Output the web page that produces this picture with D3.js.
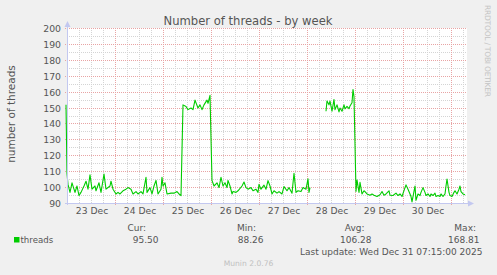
<!DOCTYPE html>
<html><head><meta charset="utf-8">
<script src="https://cdn.jsdelivr.net/npm/d3@7"></script>
<style>
html,body{margin:0;padding:0;background:#f0f0f0;}
svg{display:block;}
text{font-family:"DejaVu Sans",sans-serif;}
</style></head>
<body>
<script>
// ---- data ----
const startTime = "2025-12-22T23:15:00Z";
const endTime = "2025-12-31T07:15:00Z";
const hoursFromStart = [0,0.5,1,2,3,4.5,5.5,6.5,7.5,9,10,11,12,13,14.5,15,16.5,17.5,19,20,22,22.5,23.5,25,26,27,28.5,30,31,32.5,33.5,35,36,37.5,38.5,40,40.5,42,43,44,45,46,47.5,48,48.5,49.5,50.5,52.5,54,55.5,56.5,57.5,58.5,60,61,62.5,63.5,64.5,66,67,68,69,70.5,71,72,73,74,75.5,76.5,77.5,78.5,79.5,80.5,81,82,83,83.5,85,86,88,89,90,91,92.5,93.5,95,96,96.5,97.5,99,100,101,102,103,104,105.5,106.5,108,109,110.5,111.5,113,114,115,116,117.5,118.5,120,121,121.5,122,123,130,130.5,131.5,132,133,134,134.5,135.5,136.5,137,138,139,139.5,140.5,141.5,142,143,143.5,144,145,145.5,146.5,147,148,149,149.5,150.5,152,153,154,155.5,157,158,159,160,161.5,162,163.5,165,166,167,168,169.5,170,171,172,172.5,173,174.5,175,176,177,177.5,178.5,179.5,180,181,182,182.5,183.5,184.5,185,186,187,187.5,188.5,189.5,190,190.5,191.5,192,193,194,194.5,195.5,196.5,197,197.5,198.5,199.5];
const threads = [152,109,102,97,103,97,101,95,97,101,104,99,108,99,101,98,103,97,108.5,99,101,104,99,96,97,96,98,99,100,99,96,97.5,96,97.5,96,106.5,97,100,96,101,104.5,96,99,106.5,101,103,96,96.5,96.5,97.5,96,95,152,151,149,150,149,155,150,152,149,152,155,153,158,104.5,101,103,100,106.5,101,103,100,104.5,101,96,97.5,97,98,101,103.5,100,99,100,98,99,97,102,99,101.5,99,104.4,101,96,98,96.5,97.5,96,100.6,98,100,96.5,109,97,98,97.5,100,99,105.5,97,100,null,148,154.4,152,154.4,148,155.4,149,152,147.6,150,148,152,149.5,151,149.6,151.3,153.3,161.7,157,97.5,104.8,97,103.3,96,98,97.5,96,95.2,96,95.2,94.4,95.5,97.5,95.2,96,98,95.2,95,96.5,95,96,94.4,100,101.7,99,96,94.4,91,101,92,96,95,97,100,97,95,96,94.4,96,95,96.5,94.4,95,94.4,96,94.4,96,101,105.4,97,95,94.4,97,98,96,99,101,97.5,96,95.5];
const yTicks = [90,100,110,120,130,140,150,160,170,180,190,200];
const yMinorTicks = [95,105,115,125,135,145,155,165,175,185,195];
const legendHeaders = ["Cur:","Min:","Avg:","Max:"];
const legendValues = ["95.50","88.26","106.28","168.81"];
const seriesName = "threads";
const title = "Number of threads - by week";
const yLabel = "number of threads";
const lastUpdate = "Last update: Wed Dec 31 07:15:00 2025";
const version = "Munin 2.0.76";
const sideText = "RRDTOOL / TOBI OETIKER";

// ---- layout ----
const W = 497, H = 275;
const t0 = new Date(startTime), t1 = new Date(endTime);
const x = d3.scaleUtc().domain([t0, t1]).range([66, 466]);
const y = d3.scaleLinear().domain([90, 200]).range([203.5, 28.5]);
const plotL = 67, plotR = 467, plotT = 28, plotB = 203;

const svg = d3.select("body").append("svg").attr("width", W).attr("height", H);
svg.append("rect").attr("width", W).attr("height", H).attr("fill", "#f0f0f0");
svg.append("rect").attr("x", plotL).attr("y", plotT).attr("width", plotR - plotL).attr("height", plotB - plotT).attr("fill", "#ffffff");

const minorCol = "#d4d4d4", majorCol = "#e8a4a4";
const g = svg.append("g");
// minor vertical (6h)
const hours6 = d3.utcHour.every(6).range(t0, t1).filter(d => d.getUTCHours() !== 0);
g.selectAll(".vmin").data(hours6).join("line")
  .attr("x1", d => Math.floor(x(d)) + 0.5).attr("x2", d => Math.floor(x(d)) + 0.5)
  .attr("y1", plotT).attr("y2", plotB)
  .attr("stroke", minorCol).attr("stroke-dasharray", "1,1").attr("shape-rendering", "crispEdges");
// minor horizontal
g.selectAll(".hmin").data(yMinorTicks).join("line")
  .attr("x1", plotL).attr("x2", plotR)
  .attr("y1", d => Math.floor(y(d)) + 0.5).attr("y2", d => Math.floor(y(d)) + 0.5)
  .attr("stroke", minorCol).attr("stroke-dasharray", "1,1").attr("shape-rendering", "crispEdges");
// major vertical (midnight)
const days = d3.utcDay.range(t0, t1);
g.selectAll(".vmaj").data(days).join("line")
  .attr("x1", d => Math.floor(x(d)) + 0.5).attr("x2", d => Math.floor(x(d)) + 0.5)
  .attr("y1", plotT).attr("y2", plotB + 2)
  .attr("stroke", majorCol).attr("stroke-dasharray", "1,1").attr("shape-rendering", "crispEdges");
// major horizontal
g.selectAll(".hmaj").data(yTicks).join("line")
  .attr("x1", plotL - 2).attr("x2", plotR)
  .attr("y1", d => Math.floor(y(d)) + 0.5).attr("y2", d => Math.floor(y(d)) + 0.5)
  .attr("stroke", majorCol).attr("stroke-dasharray", "1,1").attr("shape-rendering", "crispEdges");

// data line
const pts = hoursFromStart.map((h, i) => ({t: d3.utcMinute.offset(t0, h * 60), v: threads[i]}));
const line = d3.line().defined(d => d.v != null).x(d => x(d.t)).y(d => y(d.v));
svg.append("path").datum(pts).attr("d", line)
  .attr("fill", "none").attr("stroke", "#00cc00").attr("stroke-width", 1.1).attr("stroke-linejoin", "round");

// axes lines
const axisCol = "#c3c8f0";
svg.append("line").attr("x1", plotL + 0.5).attr("x2", plotL + 0.5).attr("y1", plotB + 2).attr("y2", 24).attr("stroke", axisCol);
svg.append("line").attr("x1", plotL - 2).attr("x2", plotR + 4).attr("y1", plotB + 0.5).attr("y2", plotB + 0.5).attr("stroke", axisCol);
svg.append("path").attr("d", `M${plotL - 2.5},${27} L${plotL + 0.5},${21} L${plotL + 3.5},${27} Z`).attr("fill", axisCol);
svg.append("path").attr("d", `M${plotR + 1},${plotB - 2.5} L${plotR + 7},${plotB + 0.5} L${plotR + 1},${plotB + 3.5} Z`).attr("fill", axisCol);

const textCol = "#555555";
// y axis labels
const yAxis = d3.axisLeft(y).tickValues(yTicks).tickSize(0).tickPadding(0).tickFormat(d3.format("d"));
const ya = svg.append("g").attr("transform", "translate(61,0)").call(yAxis);
ya.select(".domain").remove();
ya.selectAll("text").attr("fill", textCol).style("font-size", "9.3px").style("font-family", '"DejaVu Sans",sans-serif');

// x axis labels at noon
const noons = days.map(d => d3.utcHour.offset(d, 12)).filter(d => d > t0 && d < t1);
const xAxis = d3.axisBottom(x).tickValues(noons).tickSize(0).tickPadding(0).tickFormat(d3.utcFormat("%d %b"));
const xa = svg.append("g").attr("transform", "translate(0,207)").call(xAxis);
xa.select(".domain").remove();
xa.selectAll("text").attr("fill", textCol).style("font-size", "9.2px").style("font-family", '"DejaVu Sans",sans-serif');

// title
svg.append("text").attr("x", 248).attr("y", 25).attr("text-anchor", "middle")
  .attr("fill", textCol).style("font-size", "11.6px").text(title);
// y label
svg.append("text").attr("transform", "translate(15,114) rotate(-90)").attr("text-anchor", "middle")
  .attr("fill", textCol).style("font-size", "10.5px").text(yLabel);
// side text
svg.append("text").attr("transform", "translate(485,5) rotate(90)").attr("text-anchor", "start")
  .attr("fill", "#c4c4c4").style("font-size", "7.6px").attr("textLength", 92).text(sideText);

// legend
svg.append("rect").attr("x", 14).attr("y", 237).attr("width", 5.5).attr("height", 5.5).attr("fill", "#00cc00");
svg.append("text").attr("x", 20.5).attr("y", 242.5).attr("fill", textCol).style("font-size", "8.6px").text(seriesName);
const headerX = [146, 256, 364.5, 476];
const valueX = [158.5, 263.5, 371.5, 479.5];
svg.selectAll(".lh").data(legendHeaders).join("text")
  .attr("x", (d, i) => headerX[i]).attr("y", 230.5).attr("text-anchor", "end")
  .attr("fill", textCol).style("font-size", "9px").text(d => d);
svg.selectAll(".lv").data(legendValues).join("text")
  .attr("x", (d, i) => valueX[i]).attr("y", 242.5).attr("text-anchor", "end")
  .attr("fill", textCol).style("font-size", "9px").text(d => d);
svg.append("text").attr("x", 482.5).attr("y", 254.5).attr("text-anchor", "end")
  .attr("fill", textCol).style("font-size", "9px").text(lastUpdate);
svg.append("text").attr("x", 248.5).attr("y", 265.5).attr("text-anchor", "middle")
  .attr("fill", "#c0c0c0").style("font-size", "7.6px").text(version);
</script>
</body></html>
